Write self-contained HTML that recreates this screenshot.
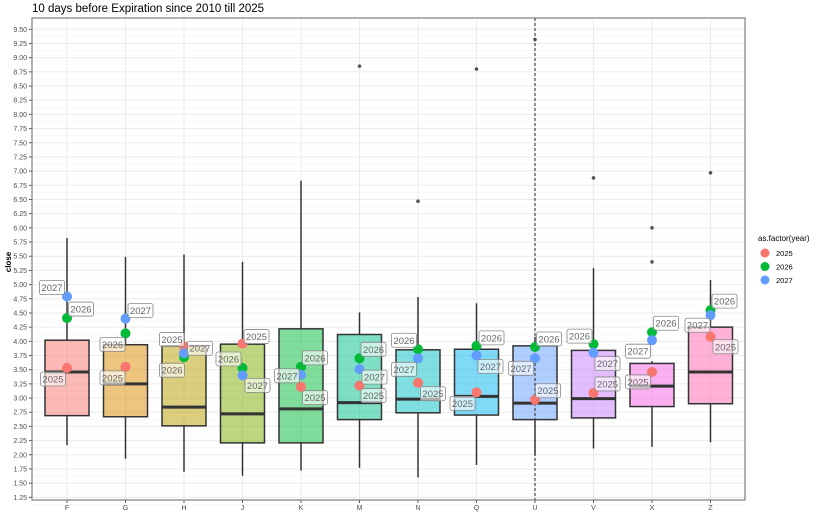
<!DOCTYPE html>
<html><head><meta charset="utf-8"><style>
body{margin:0;background:#fff;width:819px;height:526px;overflow:hidden;font-family:"Liberation Sans",sans-serif}
svg{display:block}
</style></head><body>
<svg id="chart" width="819" height="526" xmlns="http://www.w3.org/2000/svg"></svg>
<script>
const categories=["F","G","H","J","K","M","N","Q","U","V","X","Z"];
const boxFill=["#F8766D","#DE8C00","#B79F00","#7CAE00","#00BA38","#00C08B","#00BFC4","#00B4F0","#619CFF","#C77CFF","#F564E3","#FF64B0"];
const q1=[2.69,2.67,2.51,2.21,2.21,2.62,2.74,2.70,2.62,2.65,2.85,2.90];
const med=[3.46,3.25,2.84,2.72,2.81,2.92,2.98,3.03,2.91,2.99,3.21,3.46];
const q3=[4.02,3.94,3.92,3.95,4.22,4.12,3.85,3.86,3.92,3.84,3.61,4.25];
const whiskLo=[2.17,1.93,1.70,1.63,1.72,1.77,1.60,1.82,1.99,2.11,2.14,2.22];
const whiskHi=[5.82,5.49,5.53,5.40,6.83,4.51,4.78,4.67,4.08,5.29,3.65,5.08];
const outliers=[[],[],[],[],[],[8.85],[6.47],[8.80],[9.32],[6.88],[6.00,5.40],[6.97]];
const years=["2025","2026","2027"];
const yearColor=["#F8766D","#00BA38","#619CFF"];
const v2025=[3.53,3.55,3.91,3.96,3.20,3.22,3.27,3.10,2.97,3.09,3.46,4.08];
const v2026=[4.41,4.14,3.72,3.53,3.55,3.70,3.86,3.92,3.90,3.95,4.16,4.55];
const v2027=[4.79,4.40,3.79,3.40,3.41,3.51,3.70,3.75,3.70,3.80,4.02,4.46];
const yTicks=[1.25,1.5,1.75,2,2.25,2.5,2.75,3,3.25,3.5,3.75,4,4.25,4.5,4.75,5,5.25,5.5,5.75,6,6.25,6.5,6.75,7,7.25,7.5,7.75,8,8.25,8.5,8.75,9,9.25,9.5];
const dashedCat="U";
// label offsets (styling) per category: [2025,2026,2027] as [dx,dy]
const lblOff=[
[[-14,11],[14,-9],[-15,-9]],[[-13,11],[-13,11],[15,-8]],[[-12,-7],[-12,13],[16,-5]],
[[14,-7],[-14,-9],[15,10]],[[14,11],[14,-9],[-14,1]],[[14,10],[14,-9],[15,8]],
[[15,11],[-14,-9],[-14,11]],[[-14,11],[15,-8],[14,11]],[[13,-9],[14,-8],[-14,10]],
[[14,-9],[-14,-8],[14,11]],[[-14,10],[14,-9],[-14,11]],[[15,10],[14,-9],[-13,10]]];

const NS="http://www.w3.org/2000/svg";
const svg=document.getElementById('chart');
const PL=32,PR=745,PT=18,PB=500;
const y=v=>29.3+(9.5-v)*56.73;
const x=i=>67+i*58.5;
function mk(t,a,p){const e=document.createElementNS(NS,t);for(const k in a)e.setAttribute(k,a[k]);(p||svg).appendChild(e);return e;}

const title=mk('text',{x:32,y:12,'font-size':11.5,fill:'#000'});title.textContent="10 days before Expiration since 2010 till 2025";



const grid=mk('g',{});


yTicks.forEach(t=>{
  mk('line',{x1:PL,x2:PR,y1:y(t),y2:y(t),stroke:'#ebebeb','stroke-width':1},grid);
  mk('line',{x1:PL,x2:PR,y1:y(t)+56.73/8,y2:y(t)+56.73/8,stroke:'#f4f4f4','stroke-width':0.6},grid);
});
categories.forEach((c,i)=>mk('line',{x1:x(i),x2:x(i),y1:PT,y2:PB,stroke:'#ebebeb','stroke-width':1},grid));

const yax=mk('g',{'font-size':7,fill:'#4d4d4d'});


yTicks.forEach(t=>{
  const tx=mk('text',{x:27,y:y(t)+2.5,'text-anchor':'end'},yax);tx.textContent=t.toFixed(2);
  mk('line',{x1:29,x2:32,y1:y(t),y2:y(t),stroke:'#555'},yax);
});
const yt=mk('text',{x:0,y:0,'font-size':8,'font-weight':'bold','text-anchor':'middle',transform:'translate(11,262) rotate(-90)'});yt.textContent="close";



const xax=mk('g',{'font-size':7,fill:'#4d4d4d','text-anchor':'middle'});


categories.forEach((c,i)=>{mk('line',{x1:x(i),x2:x(i),y1:PB,y2:PB+3,stroke:'#555'},xax);const t=mk('text',{x:x(i),y:510},xax);t.textContent=c;});

categories.forEach((c,i)=>{
  const g=mk('g',{});
  
  
  const cx=x(i),w=22;
  mk('line',{x1:cx,x2:cx,y1:y(whiskHi[i]),y2:y(q3[i]),stroke:'#333','stroke-width':1.5},g);
  mk('line',{x1:cx,x2:cx,y1:y(q1[i]),y2:y(whiskLo[i]),stroke:'#333','stroke-width':1.5},g);
  mk('rect',{x:cx-w,y:y(q3[i]),width:2*w,height:y(q1[i])-y(q3[i]),fill:boxFill[i],'fill-opacity':0.5,stroke:'#333','stroke-width':1.5},g);
  mk('line',{x1:cx-w,x2:cx+w,y1:y(med[i]),y2:y(med[i]),stroke:'#333','stroke-width':3},g);
  outliers[i].forEach(o=>mk('circle',{cx:cx,cy:y(o),r:1.8,fill:'#555'},g));
});

const di=categories.indexOf(dashedCat);
const dl=mk('line',{x1:x(di),x2:x(di),y1:PT,y2:PB,stroke:'#444','stroke-width':1.2,'stroke-dasharray':'3,2'});



const series=[v2025,v2026,v2027];
series.forEach((vals,s)=>{
  const g=mk('g',{});
  
  
  vals.forEach((v,i)=>{
    const p=mk('circle',{cx:x(i),cy:y(v),r:5,fill:yearColor[s]},g);
    
    
  });
});
series.forEach((vals,s)=>{
  vals.forEach((v,i)=>{
    const [dx,dy]=lblOff[i][s];const lx=x(i)+dx,ly=y(v)+dy;
    const g=mk('g',{});
    
    
    mk('rect',{x:lx-12.5,y:ly-7,width:25,height:14,rx:2,fill:'#fff','fill-opacity':0.6,stroke:'#888','stroke-width':0.8},g);
    const t=mk('text',{x:lx,y:ly+3.5,'font-size':9.5,fill:'#666','text-anchor':'middle'},g);t.textContent=years[s];
  });
});

const fr=mk('rect',{x:PL,y:PT,width:PR-PL,height:PB-PT,fill:'none',stroke:'#7f7f7f','stroke-width':1.2});



const lg=mk('g',{'font-size':7.5,fill:'#000'});


const lt=mk('text',{x:758,y:241,'font-size':8},lg);lt.textContent="as.factor(year)";
years.forEach((yr,s)=>{
  const e=mk('g',{},lg);
  
  
  mk('circle',{cx:765,cy:253+s*13.5,r:4.5,fill:yearColor[s]},e);
  const t=mk('text',{x:776,y:256+s*13.5},e);t.textContent=yr;
});
</script>
</body></html>
